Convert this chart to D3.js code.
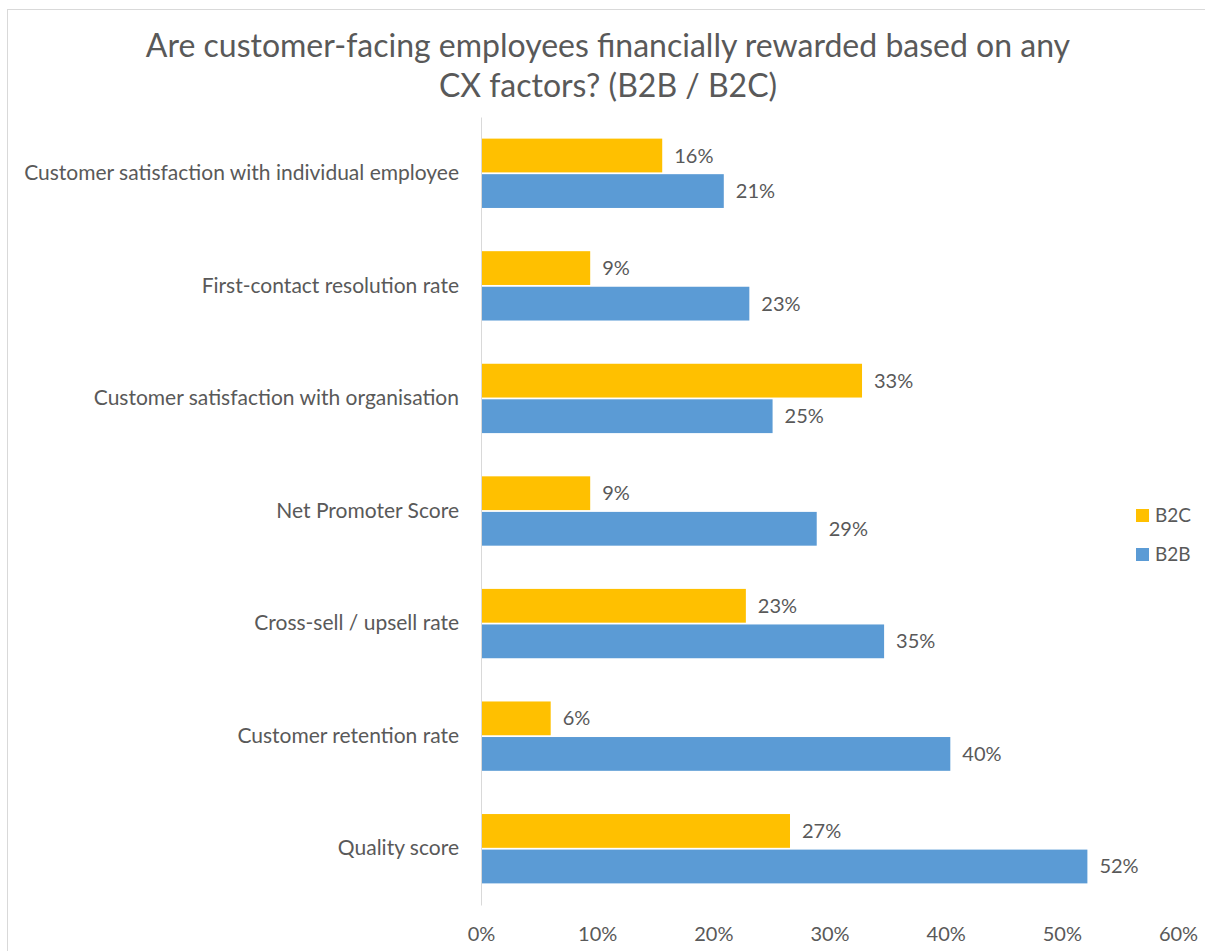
<html>
<head>
<meta charset="utf-8">
<script src="https://d3js.org/d3.v7.min.js"></script>
<style>
  body { margin: 0; background: #fff; }
  text { font-family: Lato, "Open Sans", sans-serif; fill: #595959; }
</style>
</head>
<body>
<script>
// chart data
var categories = [
  "Customer satisfaction with individual employee",
  "First-contact resolution rate",
  "Customer satisfaction with organisation",
  "Net Promoter Score",
  "Cross-sell / upsell rate",
  "Customer retention rate",
  "Quality score"
];
var b2c = [15.6, 9.4, 32.8, 9.4, 22.8, 6.0, 26.6];
var b2b = [20.9, 23.1, 25.1, 28.9, 34.7, 40.4, 52.2];
var seriesNames = ["B2C", "B2B"];
var seriesColors = ["#FFC000", "#5B9BD5"];
var xTicks = [0, 10, 20, 30, 40, 50, 60];
var titleLines = ["Are customer-facing employees financially rewarded based on any", "CX factors? (B2B / B2C)"];

var W = 1205, H = 951;
var margin = { top: 117, right: 27, bottom: 46, left: 481 };

var svg = d3.select("body").append("svg")
  .attr("width", W)
  .attr("height", H);

// chart border
svg.append("rect")
  .attr("x", 7.5).attr("y", 9.5)
  .attr("width", W).attr("height", H)
  .attr("fill", "none")
  .attr("stroke", "#d9d9d9");

// title
svg.append("g").selectAll("text")
  .data(titleLines)
  .enter().append("text")
  .attr("x", 608)
  .attr("y", function (d, i) { return 57 + i * 40; })
  .attr("text-anchor", "middle")
  .style("font-size", "32px")
  .text(function (d) { return d; });

var x = d3.scaleLinear().domain([0, 60]).range([margin.left, W - margin.right]);
var y = d3.scaleBand().domain(categories)
  .range([margin.top, H - margin.bottom])
  .paddingInner(0.384).paddingOuter(0.192);
var ySub = d3.scaleBand().domain(seriesNames).range([0, y.bandwidth()]).paddingInner(0.05);

var rows = categories.map(function (c, i) {
  return { cat: c, vals: [{ s: "B2C", v: b2c[i] }, { s: "B2B", v: b2b[i] }] };
});

var g = svg.append("g");
var grp = g.selectAll("g.cat")
  .data(rows)
  .enter().append("g")
  .attr("class", "cat")
  .attr("transform", function (d) { return "translate(0," + y(d.cat) + ")"; });

grp.selectAll("rect")
  .data(function (d) { return d.vals; })
  .enter().append("rect")
  .attr("x", x(0))
  .attr("y", function (d) { return ySub(d.s); })
  .attr("width", function (d) { return x(d.v) - x(0); })
  .attr("height", ySub.bandwidth())
  .attr("fill", function (d, i) { return seriesColors[i]; });

grp.selectAll("text.lbl")
  .data(function (d) { return d.vals; })
  .enter().append("text")
  .attr("class", "lbl")
  .attr("x", function (d) { return x(d.v) + 12; })
  .attr("y", function (d) { return ySub(d.s) + ySub.bandwidth() / 2; })
  .attr("dy", "0.35em")
  .style("font-size", "20px")
  .text(function (d) { return Math.round(d.v) + "%"; });

// y axis
var yAxis = svg.append("g")
  .attr("transform", "translate(" + x(0) + ",0)")
  .call(d3.axisLeft(y).tickSize(0).tickPadding(22));
yAxis.select(".domain").attr("stroke", "#d9d9d9");
yAxis.selectAll("text").style("font-size", "21px").attr("fill", "#595959");

// x tick labels (no axis line)
var xAxis = svg.append("g")
  .attr("transform", "translate(0," + (H - margin.bottom) + ")")
  .call(d3.axisBottom(x).tickValues(xTicks).tickSize(0).tickPadding(22)
    .tickFormat(function (d) { return d + "%"; }));
xAxis.select(".domain").remove();
xAxis.selectAll("text").style("font-size", "20px").attr("fill", "#595959");

// legend
var leg = svg.append("g").selectAll("g")
  .data(seriesNames)
  .enter().append("g")
  .attr("transform", function (d, i) { return "translate(1136," + (509 + i * 39) + ")"; });
leg.append("rect").attr("width", 13).attr("height", 13)
  .attr("fill", function (d, i) { return seriesColors[i]; });
leg.append("text").attr("x", 19).attr("y", 13)
  .style("font-size", "19px")
  .text(function (d) { return d; });
</script>
</body>
</html>
